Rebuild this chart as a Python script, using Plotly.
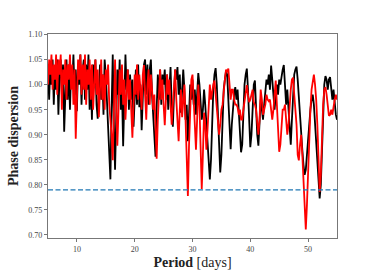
import numpy as np
import plotly.graph_objects as go

PERIOD_START = 5.0
PERIOD_STEP = 0.2

black_values = [
    1.03, 0.97, 1.04, 1.00, 1.05, 0.96, 1.03, 0.99, 1.05, 0.94, 1.02,
    1.05, 0.98, 1.04, 0.906, 0.99, 1.05, 0.97, 1.04, 0.95, 1.03,
    1.00, 1.06, 0.98, 1.03, 0.947, 1.04, 1.00, 1.06, 0.96, 1.03,
    1.05, 0.97, 1.04, 0.99, 1.06, 0.95, 1.02, 0.93, 1.04, 1.00,
    1.05, 0.96, 0.932, 0.99, 1.04, 0.97, 1.02, 0.94, 1.05, 1.02,
    0.96, 0.90, 0.86, 0.811, 0.95, 1.06, 0.92, 0.83, 0.93, 1.03,
    0.98, 1.05, 0.95, 0.99, 0.877, 0.96, 1.06, 0.99, 1.03, 0.95,
    1.02, 0.97, 1.01, 0.916, 0.98, 1.03, 0.96, 1.04, 0.955, 1.00,
    0.909, 1.00, 1.04, 1.05, 0.98, 1.04, 0.96, 1.03, 1.05, 0.98,
    0.93, 0.90, 0.856, 0.95, 1.02, 0.97, 1.03, 0.96, 1.02, 1.00,
    1.03, 0.97, 1.02, 0.95, 1.01, 1.035, 0.96, 0.916, 0.98, 1.03,
    1.01, 1.035, 0.98, 1.02, 0.944, 1.00, 1.03, 0.99, 0.93, 0.96,
    0.887, 0.94, 1.00, 0.97, 1.01, 0.96, 0.99, 0.94, 1.00, 1.023,
    1.00, 0.97, 0.93, 0.95, 0.99, 0.96, 0.92, 0.88, 0.84, 0.811,
    0.85, 0.93, 0.99, 1.02, 1.033, 1.00, 0.94, 0.88, 0.825, 0.86,
    0.94, 0.99, 1.01, 1.027, 1.02, 0.97, 0.90, 0.871, 0.92, 0.96,
    0.98, 0.995, 0.97, 0.99, 0.95, 0.91, 0.865, 0.88, 0.96, 1.00,
    1.02, 1.032, 0.99, 0.93, 0.875, 0.90, 0.96, 1.00, 1.008, 0.95,
    0.90, 0.878, 0.92, 0.97, 0.95, 0.93, 0.96, 0.98, 1.01, 1.00,
    1.02, 0.99, 1.038, 1.01, 0.97, 0.95, 0.98, 1.00, 0.98, 1.01,
    1.00, 1.02, 1.03, 1.039, 1.00, 0.96, 0.99, 0.95, 0.91, 0.88,
    0.93, 0.99, 1.02, 1.03, 1.036, 1.01, 0.97, 0.93, 0.90, 0.87,
    0.84, 0.82, 0.83, 0.86, 0.90, 0.93, 0.95, 0.97, 0.98, 0.96,
    0.92, 0.88, 0.84, 0.80, 0.773, 0.80, 0.88, 0.95, 1.00, 1.017,
    1.01, 0.99, 1.01, 1.015, 0.99, 0.97, 0.99, 0.96, 0.94, 0.93,
]

red_values = [
    1.00, 1.05, 1.02, 1.06, 0.99, 1.04, 1.01, 1.06, 0.98, 1.05, 1.02,
    1.06, 0.95, 1.03, 1.00, 1.05, 0.97, 1.04, 1.01, 1.06, 0.99,
    1.04, 0.96, 1.03, 0.892, 1.00, 1.05, 1.01, 1.06, 0.98, 1.04,
    0.99, 1.06, 0.96, 1.03, 1.00, 1.05, 0.97, 1.04, 0.95, 1.02,
    1.05, 0.98, 1.03, 0.935, 1.01, 1.05, 0.97, 1.02, 0.95, 1.03,
    1.00, 1.04, 0.96, 0.93, 0.90, 0.849, 0.95, 1.05, 0.96, 0.878,
    0.95, 1.03, 0.98, 1.04, 0.96, 1.01, 0.93, 1.00, 1.03, 0.97,
    1.01, 0.95, 0.894, 0.96, 1.02, 0.98, 1.04, 0.97, 1.02, 0.99,
    0.95, 1.02, 1.039, 0.98, 0.93, 1.00, 1.03, 0.96, 1.02, 0.99,
    0.95, 0.98, 0.92, 0.852, 0.93, 1.00, 1.03, 0.97, 1.01, 0.96,
    0.919, 0.97, 1.02, 0.98, 1.01, 0.96, 0.92, 0.96, 1.01, 1.03,
    0.97, 0.92, 0.887, 0.95, 0.99, 0.935, 0.97, 1.00, 0.93, 0.86,
    0.778, 0.88, 0.96, 1.01, 1.02, 0.97, 0.92, 0.87, 0.93, 1.00,
    0.96, 0.88, 0.792, 0.86, 0.944, 0.92, 0.87, 0.91, 0.96, 1.00,
    0.97, 0.99, 1.00, 1.008, 0.98, 0.95, 0.92, 0.90, 0.92, 0.95,
    0.96, 0.99, 1.01, 1.03, 1.025, 1.032, 1.00, 0.97, 0.99, 0.99,
    0.97, 0.96, 0.96, 0.955, 0.94, 0.95, 0.93, 0.93, 0.95, 0.97,
    0.99, 0.999, 0.98, 0.965, 0.97, 0.98, 0.99, 0.965, 0.96, 0.95,
    0.93, 0.90, 0.93, 0.99, 0.97, 0.94, 0.95, 0.96, 0.98, 0.97,
    0.967, 0.97, 0.95, 0.93, 0.95, 0.98, 1.008, 0.96, 0.90, 0.866,
    0.88, 0.92, 0.95, 0.95, 0.96, 0.93, 0.90, 0.92, 0.96, 0.99,
    1.01, 1.014, 0.98, 0.95, 0.92, 0.86, 0.849, 0.88, 0.90, 0.86,
    0.80, 0.74, 0.711, 0.76, 0.84, 0.90, 0.95, 0.99, 1.01, 1.020,
    1.00, 0.97, 0.92, 0.85, 0.786, 0.82, 0.90, 0.96, 0.99, 0.995,
    0.98, 0.96, 0.938, 0.94, 0.95, 0.94, 0.96, 0.97, 0.98, 0.97,
]

threshold = 0.79
x_ticks = [10, 20, 30, 40, 50]
y_ticks = [0.70, 0.75, 0.80, 0.85, 0.90, 0.95, 1.00, 1.05, 1.10]

black_periods = PERIOD_START + PERIOD_STEP * np.arange(len(black_values))
red_periods = PERIOD_START + PERIOD_STEP * np.arange(len(red_values))

FONT = "Liberation Serif, DejaVu Serif, serif"

fig = go.Figure()
fig.add_trace(go.Scatter(x=black_periods, y=black_values, mode="lines",
                         line=dict(color="black", width=1.8), showlegend=False))
fig.add_trace(go.Scatter(x=red_periods, y=red_values, mode="lines",
                         line=dict(color="red", width=1.8), showlegend=False))
fig.add_hline(y=threshold, line=dict(color="#1f77b4", width=1.2, dash="5px,2.5px"))

axis_common = dict(showgrid=False, zeroline=False, showline=True, linecolor="#777",
                   linewidth=1.2, mirror=True, ticks="outside", ticklen=3,
                   tickcolor="#777", tickfont=dict(family=FONT, size=8, color="#444"))

fig.update_layout(
    width=374, height=280,
    margin=dict(l=47, r=37, t=34, b=32),
    paper_bgcolor="white", plot_bgcolor="white",
    xaxis=dict(range=[5, 55], tickvals=x_ticks, ticktext=[str(v) for v in x_ticks],
               title=dict(text="<b>Period</b> [days]", font=dict(family=FONT, size=14, color="#222"),
                          standoff=4), **axis_common),
    yaxis=dict(range=[0.694, 1.101], tickvals=y_ticks, ticktext=[f"{v:.2f}" for v in y_ticks],
               title=dict(text="<b>Phase dispersion</b>", font=dict(family=FONT, size=14, color="#222"),
                          standoff=6), **axis_common),
)

fig.write_html("out.html", config={"displayModeBar": False},
               post_script="document.body.style.margin='0';document.body.style.overflow='hidden';")
